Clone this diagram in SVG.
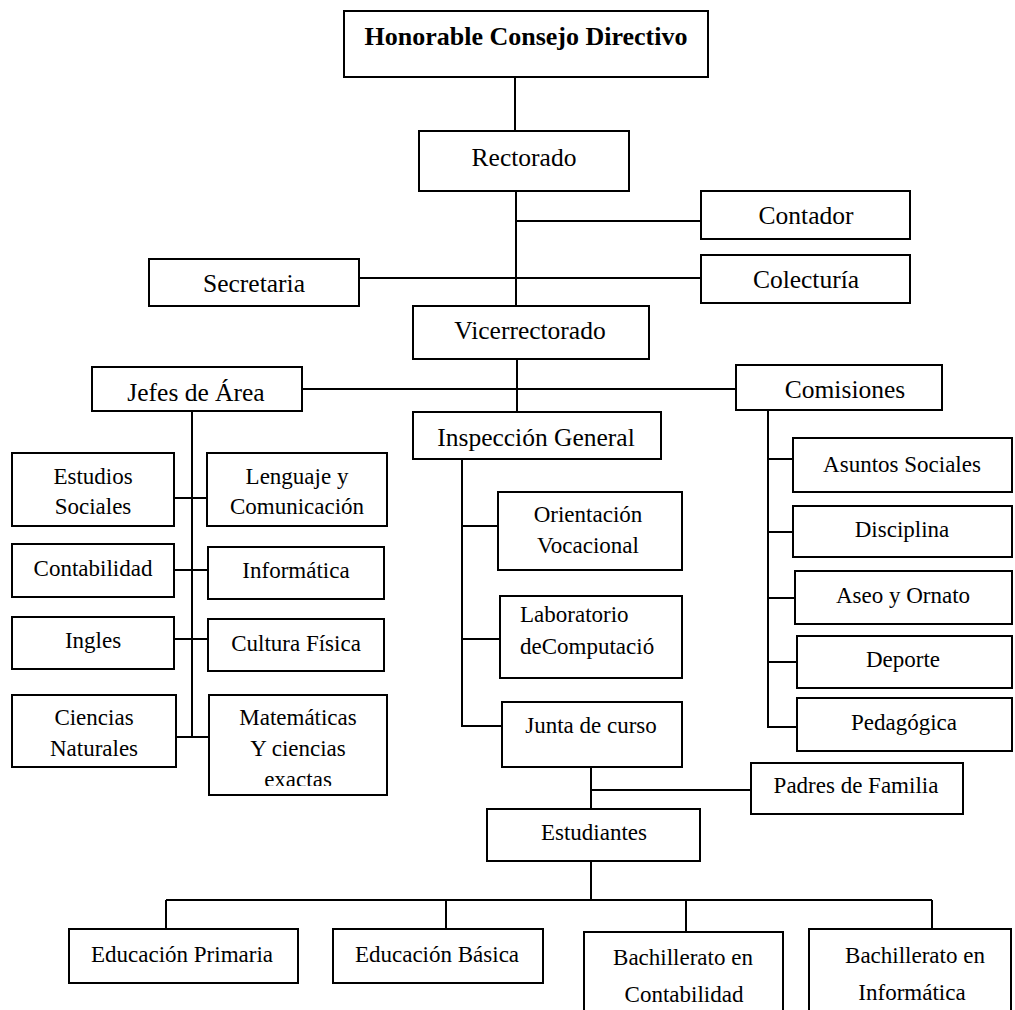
<svg xmlns="http://www.w3.org/2000/svg" width="1015" height="1010" viewBox="0 0 1015 1010">
<style>
.box{fill:#fff;stroke:#000;stroke-width:2}
.c{fill:none;stroke:#000;stroke-width:2}
text{font-family:"Liberation Serif","Times New Roman",serif;fill:#000;text-anchor:middle}
.big{font-size:25.5px}
.sm{font-size:23px}
.bold{font-size:26px;font-weight:bold}
.l{text-anchor:start}
</style>
<defs>
<clipPath id="clipMat"><rect x="200" y="690" width="200" height="96"/></clipPath>
</defs>
<rect width="1015" height="1010" fill="#fff"/>
<g id="connectors">
<line class="c" x1="515" y1="77" x2="515" y2="131"/>
<line class="c" x1="516" y1="191" x2="516" y2="306"/>
<line class="c" x1="516" y1="221" x2="701" y2="221"/>
<line class="c" x1="359" y1="278" x2="701" y2="278"/>
<line class="c" x1="517" y1="359" x2="517" y2="412"/>
<line class="c" x1="302" y1="389" x2="736" y2="389"/>
<line class="c" x1="192" y1="411" x2="192" y2="737"/>
<line class="c" x1="174" y1="498" x2="207" y2="498"/>
<line class="c" x1="174" y1="570" x2="208" y2="570"/>
<line class="c" x1="174" y1="639" x2="208" y2="639"/>
<line class="c" x1="176" y1="737" x2="209" y2="737"/>
<polyline class="c" points="462,459 462,726 502,726"/>
<line class="c" x1="462" y1="526" x2="498" y2="526"/>
<line class="c" x1="462" y1="639" x2="500" y2="639"/>
<polyline class="c" points="768,410 768,727 797,727"/>
<line class="c" x1="768" y1="459" x2="793" y2="459"/>
<line class="c" x1="768" y1="532" x2="795" y2="532"/>
<line class="c" x1="768" y1="598" x2="795" y2="598"/>
<line class="c" x1="768" y1="662" x2="797" y2="662"/>
<line class="c" x1="591" y1="767" x2="591" y2="809"/>
<line class="c" x1="591" y1="790" x2="751" y2="790"/>
<line class="c" x1="591" y1="861" x2="591" y2="900"/>
<line class="c" x1="166" y1="900" x2="932" y2="900"/>
<line class="c" x1="166" y1="900" x2="166" y2="929"/>
<line class="c" x1="446" y1="900" x2="446" y2="929"/>
<line class="c" x1="686" y1="900" x2="686" y2="932"/>
<line class="c" x1="932" y1="900" x2="932" y2="929"/>
</g>
<g id="honorable"><rect class="box" x="344" y="11" width="364" height="66"/><text class="bold" x="526" y="45">Honorable Consejo Directivo</text></g>
<g id="rectorado"><rect class="box" x="419" y="131" width="210" height="60"/><text class="big" x="524" y="166">Rectorado</text></g>
<g id="contador"><rect class="box" x="701" y="191" width="209" height="48"/><text class="big" x="806" y="224">Contador</text></g>
<g id="colecturia"><rect class="box" x="701" y="255" width="209" height="48"/><text class="big" x="806" y="288">Colecturía</text></g>
<g id="secretaria"><rect class="box" x="149" y="259" width="210" height="47"/><text class="big" x="254" y="292">Secretaria</text></g>
<g id="vicerrectorado"><rect class="box" x="413" y="306" width="236" height="53"/><text class="big" x="530" y="339">Vicerrectorado</text></g>
<g id="jefes"><rect class="box" x="92" y="367" width="210" height="44"/><text class="big" x="196" y="401">Jefes de Área</text></g>
<g id="comisiones"><rect class="box" x="736" y="365" width="206" height="45"/><text class="big" x="845" y="398">Comisiones</text></g>
<g id="inspeccion"><rect class="box" x="413" y="412" width="248" height="47"/><text class="big" x="536" y="446">Inspección General</text></g>
<g id="estudios-sociales"><rect class="box" x="12" y="453" width="162" height="73"/><text class="sm" x="93" y="484">Estudios</text><text class="sm" x="93" y="514">Sociales</text></g>
<g id="lenguaje"><rect class="box" x="207" y="453" width="180" height="73"/><text class="sm" x="297" y="484">Lenguaje y</text><text class="sm" x="297" y="514">Comunicación</text></g>
<g id="contabilidad"><rect class="box" x="12" y="544" width="162" height="53"/><text class="sm" x="93" y="576">Contabilidad</text></g>
<g id="informatica"><rect class="box" x="208" y="547" width="176" height="52"/><text class="sm" x="296" y="578">Informática</text></g>
<g id="ingles"><rect class="box" x="12" y="617" width="162" height="52"/><text class="sm" x="93" y="648">Ingles</text></g>
<g id="cultura-fisica"><rect class="box" x="208" y="619" width="176" height="52"/><text class="sm" x="296" y="651">Cultura Física</text></g>
<g id="ciencias-naturales"><rect class="box" x="12" y="695" width="164" height="72"/><text class="sm" x="94" y="725">Ciencias</text><text class="sm" x="94" y="756">Naturales</text></g>
<g id="matematicas"><rect class="box" x="209" y="695" width="178" height="100"/><text class="sm" x="298" y="725">Matemáticas</text><text class="sm" x="298" y="756">Y ciencias</text><text class="sm" x="298" y="787" clip-path="url(#clipMat)">exactas</text></g>
<g id="orientacion"><rect class="box" x="498" y="492" width="184" height="78"/><text class="sm" x="588" y="522">Orientación</text><text class="sm" x="588" y="553">Vocacional</text></g>
<g id="laboratorio"><rect class="box" x="500" y="596" width="182" height="82"/><text class="sm l" x="520" y="622">Laboratorio</text><text class="sm l" x="520" y="654">deComputació</text></g>
<g id="junta"><rect class="box" x="502" y="702" width="180" height="65"/><text class="sm" x="591" y="733">Junta de curso</text></g>
<g id="asuntos-sociales"><rect class="box" x="793" y="438" width="219" height="54"/><text class="sm" x="902" y="472">Asuntos Sociales</text></g>
<g id="disciplina"><rect class="box" x="793" y="506" width="219" height="51"/><text class="sm" x="902" y="537">Disciplina</text></g>
<g id="aseo"><rect class="box" x="795" y="571" width="217" height="53"/><text class="sm" x="903" y="603">Aseo y Ornato</text></g>
<g id="deporte"><rect class="box" x="797" y="636" width="215" height="52"/><text class="sm" x="903" y="667">Deporte</text></g>
<g id="pedagogica"><rect class="box" x="797" y="698" width="215" height="53"/><text class="sm" x="904" y="730">Pedagógica</text></g>
<g id="padres"><rect class="box" x="751" y="763" width="212" height="51"/><text class="sm" x="856" y="793">Padres de Familia</text></g>
<g id="estudiantes"><rect class="box" x="487" y="809" width="213" height="52"/><text class="sm" x="594" y="840">Estudiantes</text></g>
<g id="primaria"><rect class="box" x="69" y="929" width="229" height="54"/><text class="sm" x="182" y="962">Educación Primaria</text></g>
<g id="basica"><rect class="box" x="333" y="929" width="210" height="54"/><text class="sm" x="437" y="962">Educación Básica</text></g>
<g id="bach-contabilidad"><rect class="box" x="584" y="932" width="199" height="100"/><text class="sm" x="683" y="965">Bachillerato en</text><text class="sm" x="684" y="1002">Contabilidad</text></g>
<g id="bach-informatica"><rect class="box" x="809" y="929" width="202" height="100"/><text class="sm" x="915" y="963">Bachillerato en</text><text class="sm" x="912" y="1000">Informática</text></g>
</svg>
